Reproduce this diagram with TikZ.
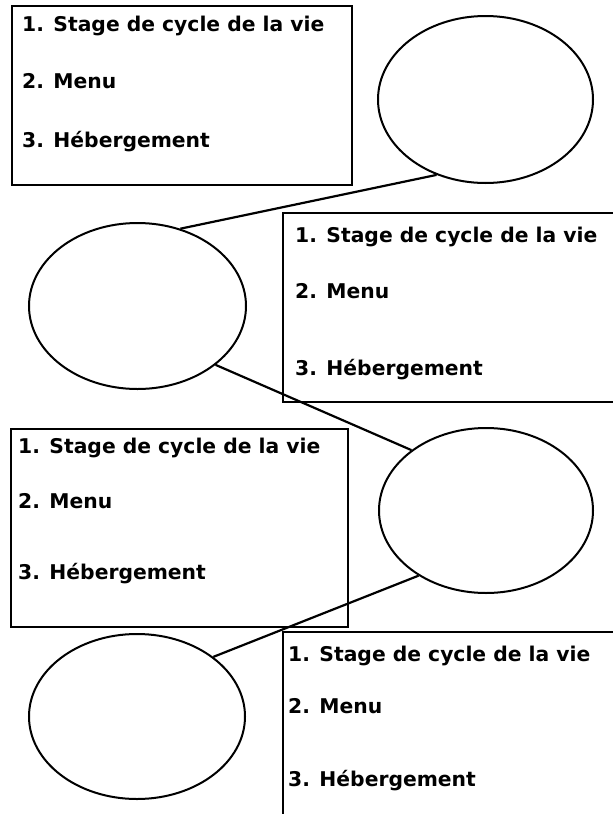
\documentclass[tikz,border=0pt]{standalone}
\usepackage{fontspec}
\setmainfont{DejaVu Sans}
\usetikzlibrary{shapes.geometric}
\tikzset{
  oval/.style={draw, ellipse, line width=2pt, inner sep=0pt, minimum width=216pt, minimum height=166pt},
  frame/.style={draw, line width=1.8pt, inner sep=0pt},
  item/.style={anchor=base west, inner sep=0pt, font=\fontsize{20.3}{24}\selectfont\bfseries},
  link/.style={line width=2.2pt}
}
\begin{document}
\begin{tikzpicture}[x=1pt,y=-1pt]
\useasboundingbox[fill=white] (0,0) rectangle (613,814);
\clip (0,0) rectangle (613,814);
% boxes
\draw[frame, line width=2.8pt] (12,6) rectangle (352,185);
\draw[frame] (283,213) rectangle (640,402);
\draw[frame, line width=2pt] (11,429) rectangle (348,627);
\draw[frame] (283,632) rectangle (640,840);
% texts
\node[item] (a1) at (22,31.7) {1. Stage de cycle de la vie};
\node[item] (a2) at (22,88) {2. Menu};
\node[item] (a3) at (22,147) {3. Hébergement};
\node[item] (b1) at (295,242) {1. Stage de cycle de la vie};
\node[item] (b2) at (295,298) {2. Menu};
\node[item] (b3) at (295,375) {3. Hébergement};
\node[item] (c1) at (18,453) {1. Stage de cycle de la vie};
\node[item] (c2) at (18,508) {2. Menu};
\node[item] (c3) at (18,579) {3. Hébergement};
\node[item] (d1) at (288,661) {1. Stage de cycle de la vie};
\node[item] (d2) at (288,713) {2. Menu};
\node[item] (d3) at (288,786) {3. Hébergement};
% ellipses
\node[oval, minimum width=215pt, minimum height=167pt] (e1) at (485.5,99.5) {};
\node[oval, minimum width=217pt, minimum height=166pt] (e2) at (137.5,306) {};
\node[oval, minimum width=214pt, minimum height=165pt] (e3) at (486,510.5) {};
\node[oval, minimum width=216pt, minimum height=165pt] (e4) at (137,716.5) {};
% connectors
\draw[link] (e2.61.7) -- (e1.237.8);
\draw[link] (e2.-37.5) -- (e3.141.3);
\draw[link] (e3.224.4) -- (e4.38.5);
\end{tikzpicture}
\end{document}
